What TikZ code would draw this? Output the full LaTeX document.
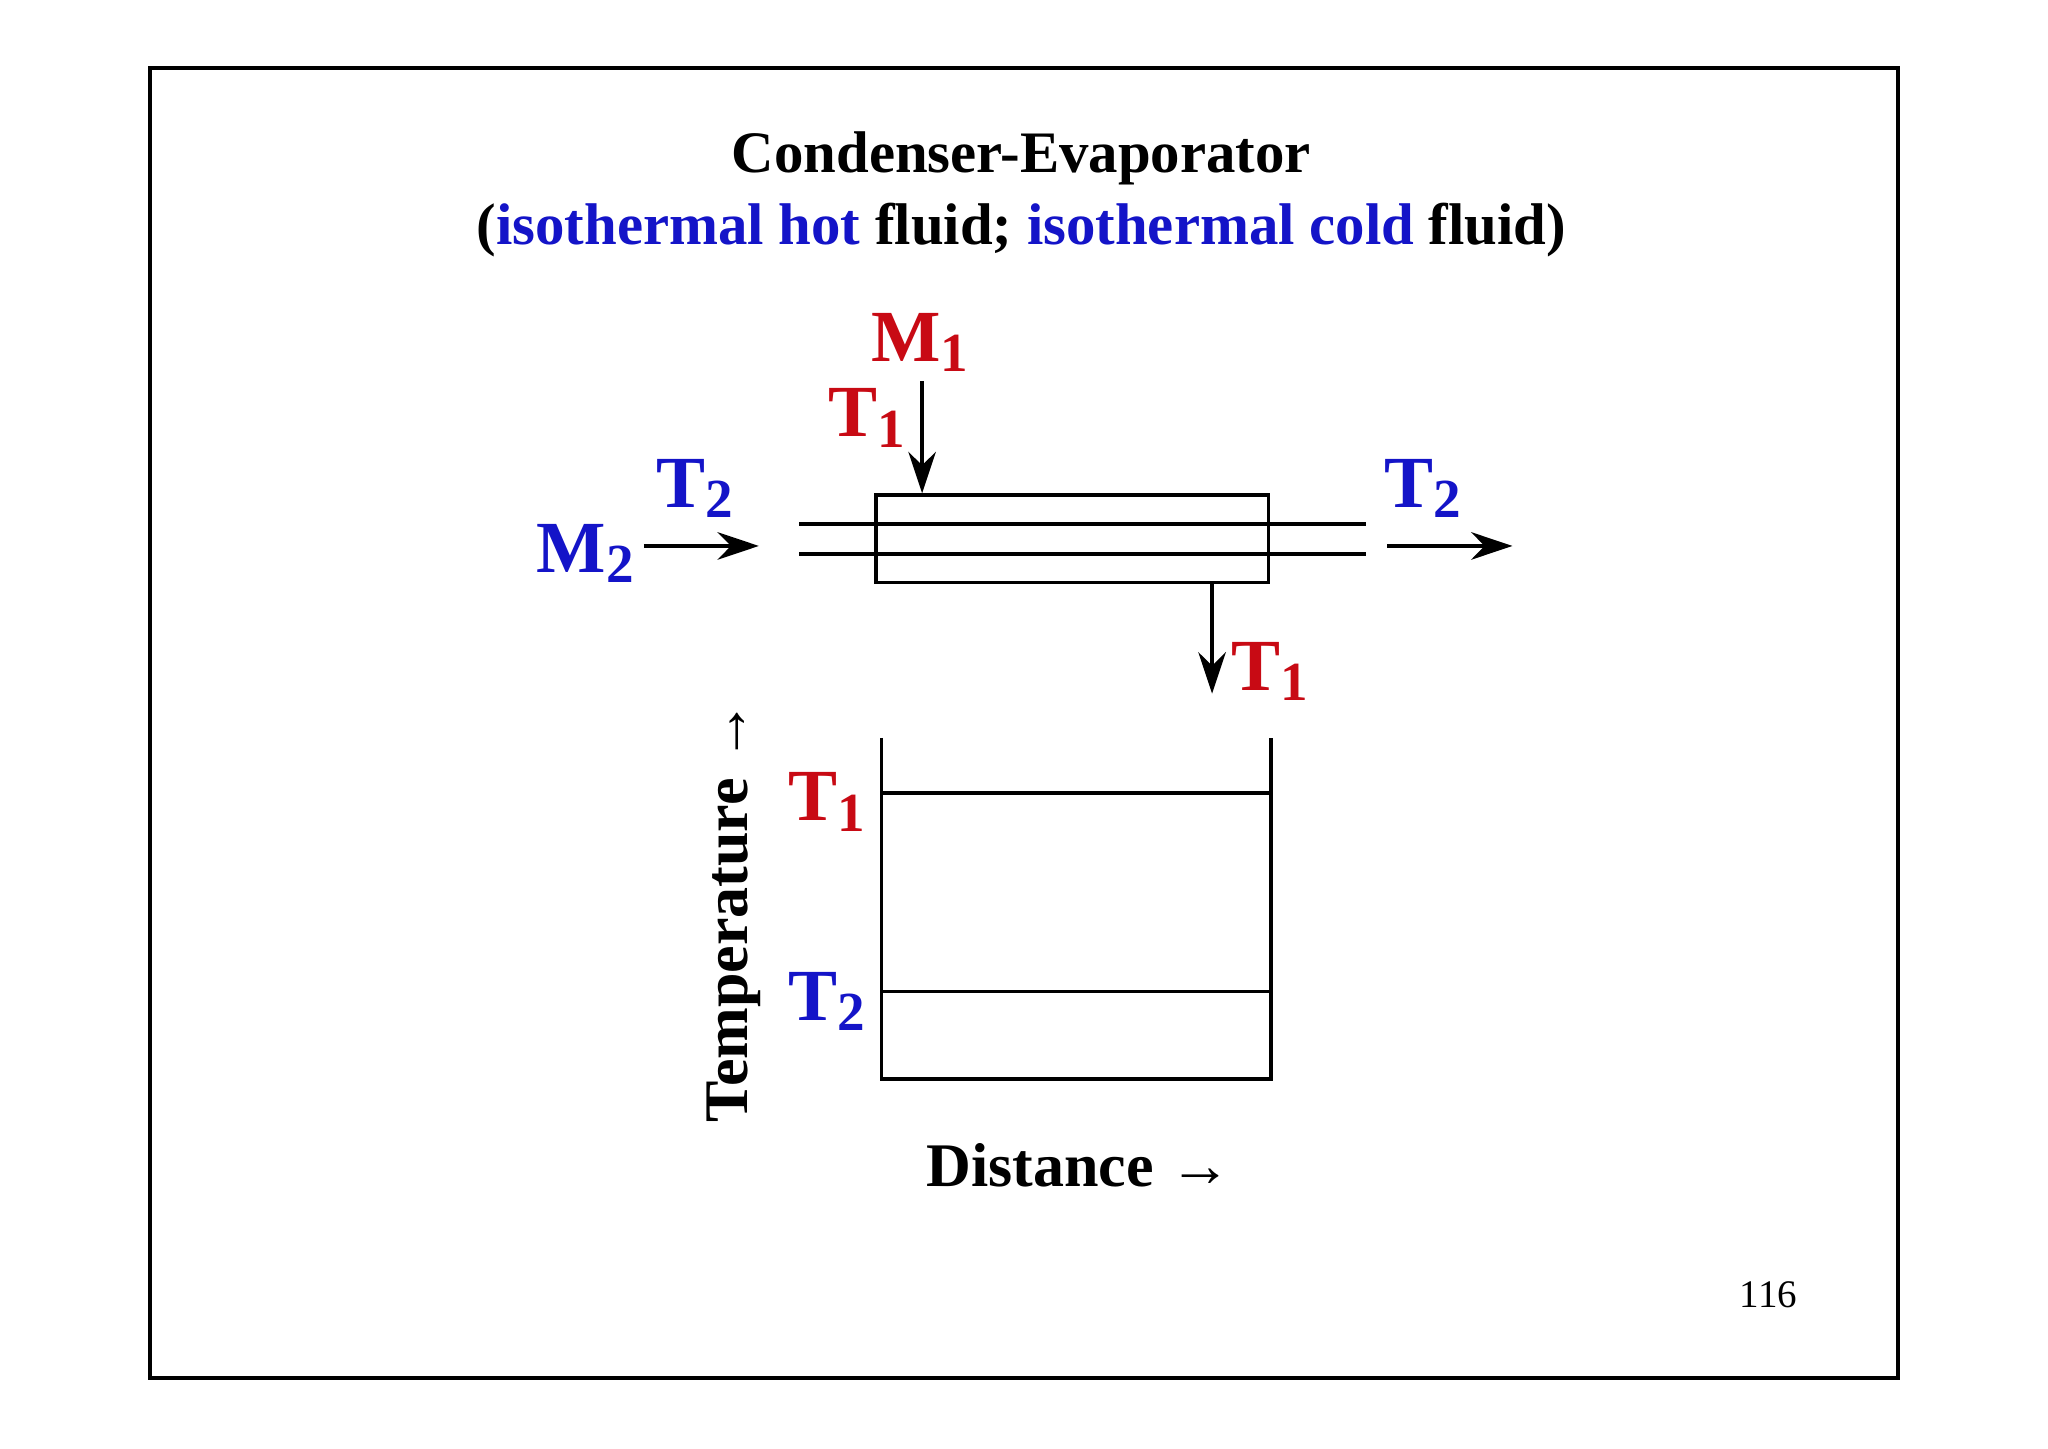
\documentclass[tikz,border=0pt]{standalone}
\usepackage{fontspec}
\setmainfont{Liberation Serif}
\usetikzlibrary{arrows.meta}
\definecolor{hred}{RGB}{200,10,20}
\definecolor{cblue}{RGB}{20,20,200}
\newcommand{\sbs}[1]{\raisebox{-0.3ex}{\fontsize{12}{14}\selectfont #1}}
\tikzset{lbl/.style={font=\fontsize{16}{19}\selectfont\bfseries,inner sep=1pt},
 ar/.style={-{Stealth[length=9pt,width=6pt]},line width=0.8pt},
 ln/.style={line width=0.8pt}}
\begin{document}
\begin{tikzpicture}[x=0.01cm,y=-0.01cm]
\fill[white] (0,0) rectangle (1568,1109);
\draw[line width=0.9pt] (115,52) rectangle (1453,1055);
\node (t1) at (782,121) {\fontsize{12.8}{15}\selectfont\bfseries Condenser-Evaporator};
\node (t2) at (782,176) {\fontsize{12.8}{15}\selectfont\bfseries (\textcolor{cblue}{isothermal hot} fluid; \textcolor{cblue}{isothermal cold} fluid)};
\node[draw,ln,minimum width=3cm,minimum height=0.67cm,inner sep=0] (box) at (821,412.5) {};
\draw[ln] (612,401) -- (1046,401);
\draw[ln] (612,424) -- (1046,424);
\coordinate (m2s) at (493,418); \coordinate (m2e) at (581,418);
\draw[ar] (m2s) -- (m2e);
\coordinate (rs) at (1062,418); \coordinate (re) at (1158,418);
\draw[ar] (rs) -- (re);
\coordinate (m1s) at (706,292);
\draw[ar] (m1s) -- (box.north -| m1s);
\coordinate (oe) at (928,531);
\draw[ar] (box.south -| oe) -- (oe);
\node[lbl,text=cblue] (lT2) at (532,374) {T\sbs{2}};
\node[lbl,text=cblue] (lM2) at (448,424) {M\sbs{2}};
\node[lbl,text=cblue] (rT2) at (1089,374) {T\sbs{2}};
\node[lbl,text=hred] (M1) at (704,262) {M\sbs{1}};
\node[lbl,text=hred] (T1a) at (664,320) {T\sbs{1}};
\node[lbl,text=hred] (T1b) at (972,514) {T\sbs{1}};
\draw[ln] (675,565) -- (675,826) -- (973,826) -- (973,565);
\draw[ln] (675,607) -- (973,607);
\draw[ln] (675,759) -- (973,759);
\node[lbl,text=hred] (pT1) at (633,614) {T\sbs{1}};
\node[lbl,text=cblue] (pT2) at (633,767) {T\sbs{2}};
\node[rotate=90,font=\fontsize{13.5}{16}\selectfont\bfseries] (temp) at (562,698) {Temperature \textrightarrow};
\node[font=\fontsize{13.5}{16}\selectfont\bfseries] (dist) at (826,892) {Distance \textrightarrow};
\node[font=\fontsize{8.5}{10}\selectfont] (pg) at (1354,991) {116};
\end{tikzpicture}
\end{document}
